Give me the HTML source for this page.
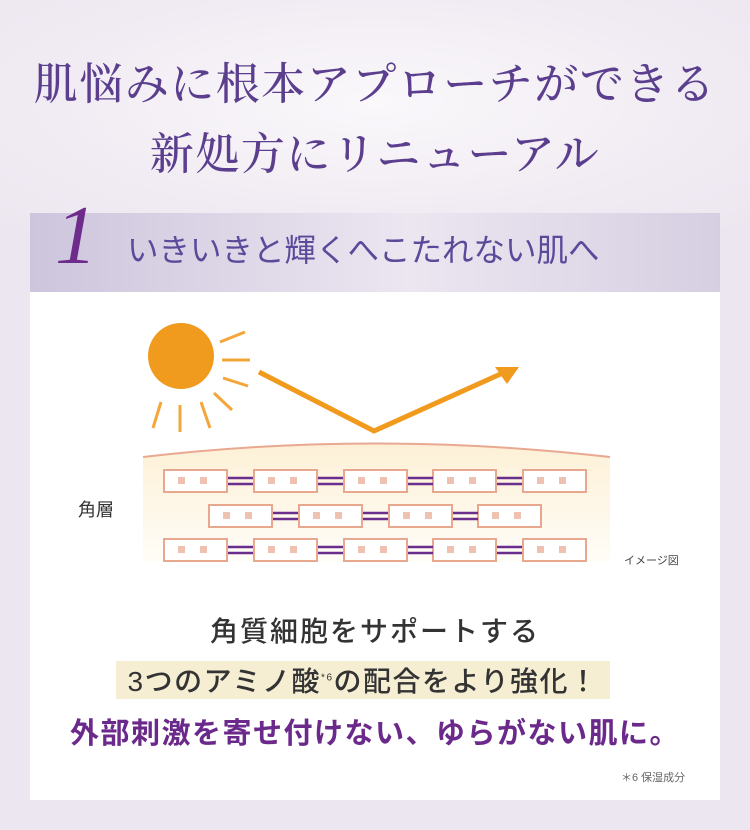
<!DOCTYPE html>
<html><head><meta charset="utf-8"><style>
body{margin:0;width:750px;height:830px;background:#ece6f0;position:relative;overflow:hidden;font-family:"Liberation Sans","Noto Sans CJK JP",sans-serif}
.bgglow{position:absolute;left:0;top:0;width:750px;height:230px;background:radial-gradient(ellipse at 50% 45%,#faf8fb 0%,#f1ecf3 60%,#ece6f0 100%)}
.t{position:absolute;left:0;width:750px;text-align:center;font-family:"Liberation Serif","Noto Serif CJK SC",serif;color:#5b3f8e;font-size:44px;letter-spacing:1.5px;font-weight:500}
.band{position:absolute;left:30px;top:213px;width:690px;height:79px;background:linear-gradient(90deg,#cdc5dc,#ece6f1 55%,#d6cfe2)}
.panel{position:absolute;left:30px;top:292px;width:690px;height:508px;background:#fff}
.abs{position:absolute}
</style></head><body>
<div class="bgglow"></div>
<div class="t" style="top:48px">肌悩みに根本アプローチができる</div>
<div class="t" style="top:118px">新処方にリニューアル</div>
<div class="band"></div>
<div class="abs" style="left:55px;top:194px;font-family:'Liberation Serif',serif;font-style:italic;font-size:84px;color:#6d2b8c;line-height:84px">1</div>
<div class="abs" style="left:127px;top:230px;font-size:31.5px;color:#5a4a9a;line-height:40px">いきいきと輝くへこたれない肌へ</div>
<div class="panel"></div>
<svg class="abs" style="left:0;top:0" width="750" height="830">
<defs><linearGradient id="sk" x1="0" y1="0" x2="0" y2="1"><stop offset="0" stop-color="#fdf0d6"/><stop offset="1" stop-color="#fffdf8"/></linearGradient></defs>
<circle cx="181" cy="356" r="33" fill="#f09a1e"/>
<g stroke="#f3a63a" stroke-width="3">
<line x1="220" y1="342" x2="245" y2="332"/><line x1="222" y1="360" x2="250" y2="360"/>
<line x1="223" y1="378" x2="248" y2="386"/><line x1="214" y1="393" x2="232" y2="410"/>
<line x1="201" y1="402" x2="210" y2="428"/><line x1="180" y1="405" x2="180" y2="432"/>
<line x1="161" y1="402" x2="153" y2="428"/></g>
<polyline points="259,372 374,431 505,372" fill="none" stroke="#f09a1e" stroke-width="5"/>
<polygon points="519,367 495,367 507,384" fill="#f09a1e"/>
<path d="M143 457 Q375 430 610 457 L610 562 L143 562Z" fill="url(#sk)"/>
<path d="M143 457 Q375 430 610 457" fill="none" stroke="#e9a890" stroke-width="2"/>
<g stroke="#e8a88f" stroke-width="2" fill="#fff">
<rect x="164" y="470" width="63" height="22"/><rect x="254" y="470" width="63" height="22"/><rect x="344" y="470" width="63" height="22"/><rect x="433" y="470" width="63" height="22"/><rect x="523" y="470" width="63" height="22"/>
<rect x="209" y="505" width="63" height="22"/><rect x="299" y="505" width="63" height="22"/><rect x="389" y="505" width="63" height="22"/><rect x="478" y="505" width="63" height="22"/>
<rect x="164" y="539" width="63" height="22"/><rect x="254" y="539" width="63" height="22"/><rect x="344" y="539" width="63" height="22"/><rect x="433" y="539" width="63" height="22"/><rect x="523" y="539" width="63" height="22"/>
</g>
<g fill="#efc1b0">
<rect x="178" y="477" width="7" height="7"/><rect x="200" y="477" width="7" height="7"/><rect x="268" y="477" width="7" height="7"/><rect x="290" y="477" width="7" height="7"/><rect x="358" y="477" width="7" height="7"/><rect x="380" y="477" width="7" height="7"/><rect x="447" y="477" width="7" height="7"/><rect x="469" y="477" width="7" height="7"/><rect x="537" y="477" width="7" height="7"/><rect x="559" y="477" width="7" height="7"/>
<rect x="223" y="512" width="7" height="7"/><rect x="245" y="512" width="7" height="7"/><rect x="313" y="512" width="7" height="7"/><rect x="335" y="512" width="7" height="7"/><rect x="403" y="512" width="7" height="7"/><rect x="425" y="512" width="7" height="7"/><rect x="492" y="512" width="7" height="7"/><rect x="514" y="512" width="7" height="7"/>
<rect x="178" y="546" width="7" height="7"/><rect x="200" y="546" width="7" height="7"/><rect x="268" y="546" width="7" height="7"/><rect x="290" y="546" width="7" height="7"/><rect x="358" y="546" width="7" height="7"/><rect x="380" y="546" width="7" height="7"/><rect x="447" y="546" width="7" height="7"/><rect x="469" y="546" width="7" height="7"/><rect x="537" y="546" width="7" height="7"/><rect x="559" y="546" width="7" height="7"/>
</g>
<g stroke="#6a2f8e" stroke-width="2.5">
<path d="M228 478h25M228 484h25M318 478h25M318 484h25M408 478h25M408 484h25M497 478h25M497 484h25"/>
<path d="M273 513h25M273 519h25M363 513h25M363 519h25M453 513h25M453 519h25"/>
<path d="M228 547h25M228 553h25M318 547h25M318 553h25M408 547h25M408 553h25M497 547h25M497 553h25"/>
</g>
</svg>
<div class="abs" style="left:78px;top:496px;font-size:18px;color:#333">角層</div>
<div class="abs" style="left:624px;top:552px;font-size:11px;color:#444">イメージ図</div>
<div class="abs" style="left:0;width:750px;text-align:center;top:610px;font-size:28px;color:#333;letter-spacing:2px;font-weight:500">角質細胞をサポートする</div>
<div class="abs" style="left:116px;top:661px;width:494px;height:38px;background:#f6eed3"></div>
<div class="abs" style="left:116px;width:494px;text-align:center;top:660px;font-size:28px;color:#333;letter-spacing:1.5px;font-weight:500">3つのアミノ酸<sup style="font-size:10px">*6</sup>の配合をより強化！</div>
<div class="abs" style="left:0;width:750px;text-align:center;top:710px;font-size:29px;font-weight:bold;color:#6b2a8b;letter-spacing:1.5px">外部刺激を寄せ付けない、ゆらがない肌に。</div>
<div class="abs" style="left:621px;top:769px;font-size:11px;color:#666">＊6 保湿成分</div>
</body></html>
